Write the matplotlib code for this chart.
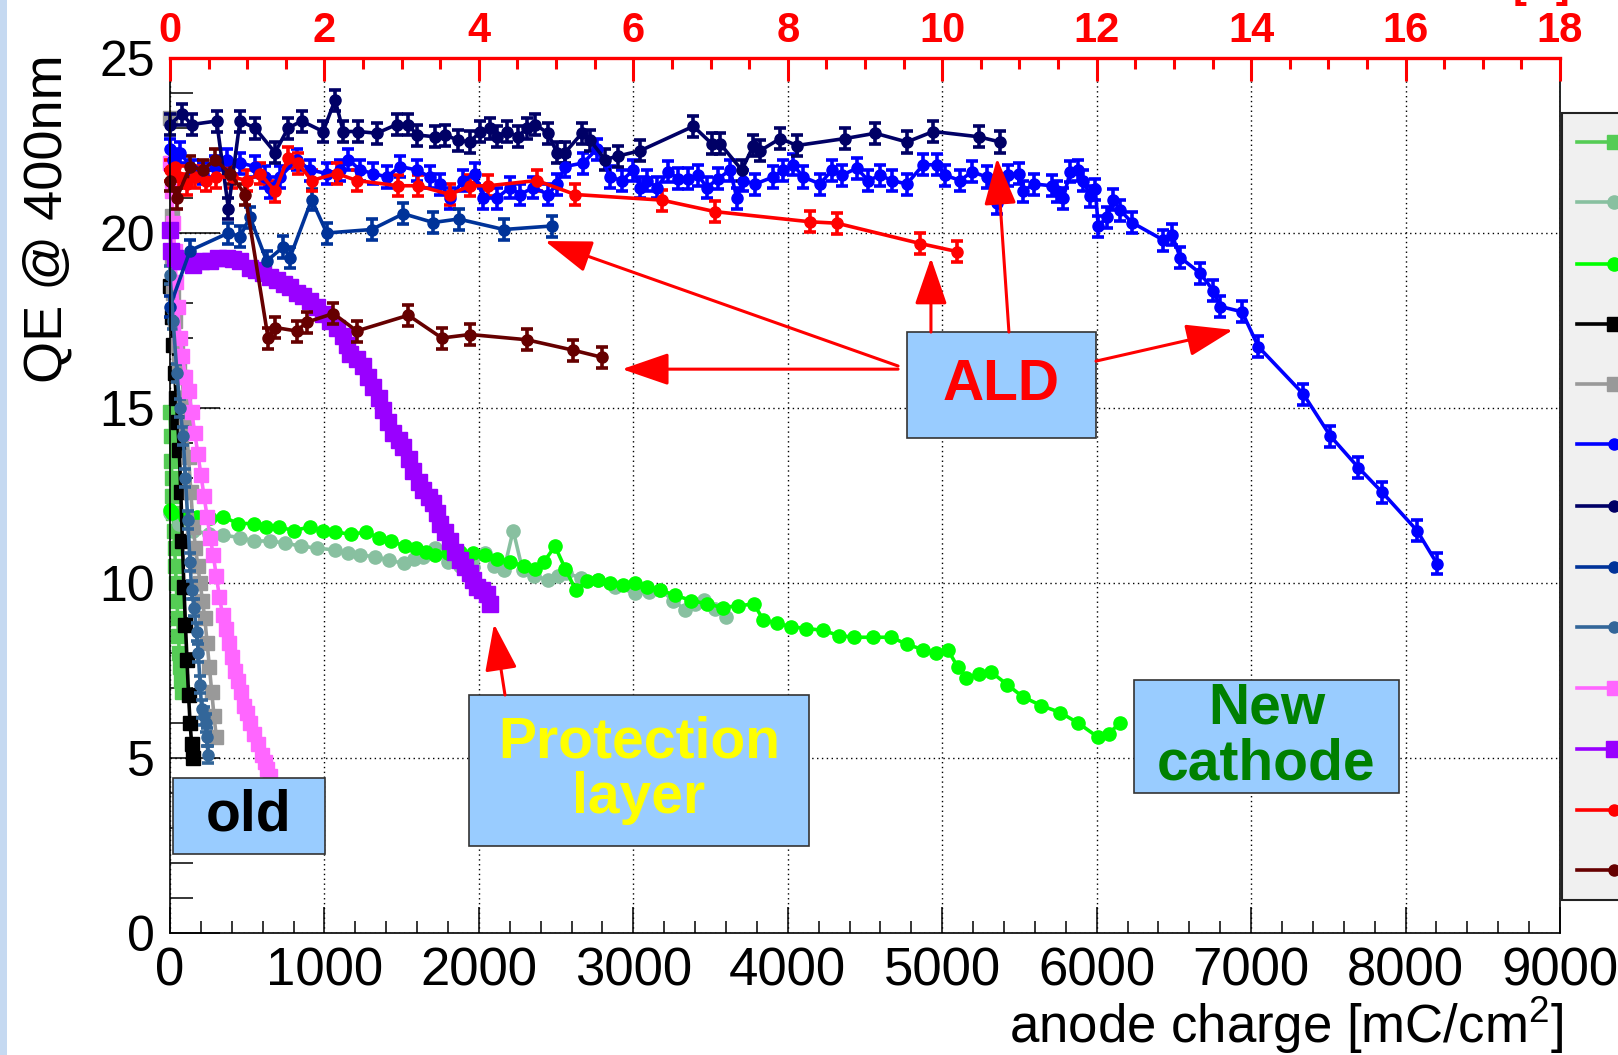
import numpy as np
import matplotlib
matplotlib.use("Agg")
import matplotlib.pyplot as plt
from matplotlib.patches import Rectangle
from matplotlib.lines import Line2D
from matplotlib.ticker import MultipleLocator

plt.rcParams['font.family'] = 'Liberation Sans'
plt.rcParams['mathtext.fontset'] = 'custom'
plt.rcParams['mathtext.rm'] = 'Liberation Sans'
plt.rcParams['mathtext.it'] = 'Liberation Sans'

# (anode charge [mC/cm2], QE [%]), one list per tube
old_lightgreen = [(0, 14.9), (4, 14.2), (8, 13.5), (12, 13.0), (16, 12.5), (20, 12.0), (25, 11.5),
                  (30, 11.0), (35, 10.5), (40, 10.0), (45, 9.5), (50, 9.0), (55, 8.5), (60, 8.0),
                  (65, 7.6), (70, 7.2), (75, 6.9)]
new_graygreen = [(0, 12.0), (60, 11.7), (150, 11.5), (250, 11.4), (340, 11.37), (450, 11.3), (545, 11.2),
                 (650, 11.2), (745, 11.14), (850, 11.05), (950, 11.0), (1069, 10.94), (1150, 10.85),
                 (1231, 10.8), (1330, 10.75), (1420, 10.65), (1514, 10.56), (1580, 10.7), (1635, 10.75),
                 (1716, 11.0), (1800, 10.6), (1880, 10.5), (1959, 10.47), (2040, 10.85), (2100, 10.5),
                 (2162, 10.37), (2222, 11.5), (2283, 10.37), (2360, 10.2), (2445, 10.09), (2510, 10.2),
                 (2566, 10.28), (2660, 10.15), (2769, 10.09), (2880, 9.9), (3012, 9.71), (3100, 9.75),
                 (3174, 9.8), (3260, 9.5), (3335, 9.23), (3400, 9.4), (3457, 9.51), (3530, 9.25),
                 (3599, 9.04)]
new_green = [(0, 12.1), (16, 12.0), (100, 11.9), (178, 11.9), (260, 11.85), (340, 11.9), (440, 11.7),
             (542, 11.7), (620, 11.6), (704, 11.6), (800, 11.5), (907, 11.6), (990, 11.5), (1069, 11.45),
             (1170, 11.4), (1271, 11.45), (1350, 11.3), (1433, 11.2), (1520, 11.05), (1595, 11.0),
             (1660, 10.9), (1716, 10.8), (1800, 10.85), (1878, 10.9), (1960, 10.85), (2040, 10.8),
             (2120, 10.7), (2202, 10.6), (2290, 10.5), (2364, 10.4), (2420, 10.6), (2493, 11.05),
             (2560, 10.4), (2627, 9.8), (2700, 10.05), (2769, 10.1), (2850, 10.0), (2930, 9.95),
             (3012, 10.0), (3090, 9.9), (3174, 9.8), (3270, 9.65), (3376, 9.5), (3480, 9.4), (3578, 9.3),
             (3680, 9.35), (3781, 9.4), (3841, 8.95), (3930, 8.85), (4022, 8.75), (4120, 8.7),
             (4226, 8.65), (4330, 8.5), (4428, 8.45), (4550, 8.45), (4671, 8.45), (4770, 8.25),
             (4874, 8.1), (4960, 8.0), (5036, 8.1), (5100, 7.6), (5157, 7.3), (5240, 7.4), (5319, 7.45),
             (5420, 7.1), (5521, 6.75), (5640, 6.5), (5764, 6.3), (5880, 6.0), (6007, 5.6), (6080, 5.7),
             (6149, 6.0)]
old_black = [(0, 18.5), (10, 17.6), (20, 16.8), (30, 16.0), (40, 15.3), (50, 14.6), (60, 13.8), (70, 12.6),
             (80, 11.2), (90, 9.9), (100, 8.8), (110, 7.8), (120, 6.8), (130, 6.0), (140, 5.4), (150, 5.0)]
old_gray = [(0, 23.3), (5, 22.0), (10, 20.5), (15, 19.3), (20, 18.3), (30, 17.5), (45, 16.8), (60, 16.3),
            (75, 15.9), (90, 15.3), (105, 14.5), (120, 13.6), (135, 12.6), (150, 11.6), (165, 11.0),
            (180, 10.5), (195, 10.0), (210, 9.5), (225, 9.0), (240, 8.3), (255, 7.6), (270, 6.9),
            (285, 6.2), (300, 5.6)]
ald_blue = [(0, 22.4), (22, 22.1), (65, 22.3), (150, 21.8), (215, 21.7), (290, 21.9), (368, 22.1),
            (453, 22.0), (550, 21.9), (615, 21.6), (648, 21.3), (712, 21.6), (821, 22.1), (907, 21.8),
            (1015, 21.7), (1101, 21.8), (1155, 22.1), (1230, 21.8), (1317, 21.7), (1403, 21.6),
            (1489, 21.9), (1597, 21.8), (1684, 21.6), (1749, 21.4), (1813, 21.0), (1900, 21.5),
            (1975, 21.7), (2029, 21.0), (2116, 21.0), (2202, 21.3), (2267, 21.1), (2353, 21.3),
            (2450, 21.1), (2504, 21.4), (2558, 21.9), (2675, 22.0), (2764, 22.4), (2850, 21.6),
            (2926, 21.5), (3001, 21.8), (3044, 21.3), (3087, 21.5), (3152, 21.3), (3226, 21.75),
            (3290, 21.55), (3355, 21.55), (3420, 21.65), (3476, 21.3), (3549, 21.55), (3627, 21.8),
            (3670, 21.0), (3711, 21.5), (3789, 21.4), (3906, 21.6), (3970, 21.8), (4035, 21.95),
            (4100, 21.6), (4210, 21.4), (4285, 21.8), (4350, 21.65), (4447, 21.85), (4521, 21.5),
            (4599, 21.65), (4674, 21.5), (4771, 21.4), (4877, 21.95), (4965, 21.95), (5019, 21.65),
            (5117, 21.5), (5192, 21.75), (5289, 21.6), (5354, 20.85), (5428, 21.65), (5495, 21.7),
            (5526, 21.2), (5592, 21.4), (5710, 21.35), (5742, 21.2), (5784, 21.0), (5829, 21.75),
            (5881, 21.8), (5914, 21.5), (5958, 21.05), (5991, 21.25), (6010, 20.2), (6067, 20.45),
            (6106, 20.95), (6153, 20.65), (6228, 20.3), (6431, 19.8), (6488, 19.95), (6541, 19.3),
            (6671, 18.85), (6755, 18.35), (6800, 17.9), (6941, 17.75), (7047, 16.75), (7338, 15.4),
            (7513, 14.2), (7694, 13.3), (7847, 12.6), (8074, 11.5), (8204, 10.55)]
ald_navy = [(0, 23.1), (76, 23.4), (140, 23.1), (302, 23.2), (378, 20.7), (453, 23.2), (550, 23.0),
            (680, 22.3), (765, 23.0), (853, 23.2), (991, 22.9), (1069, 23.8), (1122, 22.9), (1219, 22.9),
            (1339, 22.85), (1468, 23.1), (1543, 23.1), (1598, 22.8), (1716, 22.75), (1781, 22.8),
            (1867, 22.65), (1943, 22.6), (2008, 22.9), (2073, 23.0), (2116, 22.75), (2181, 22.9),
            (2254, 22.75), (2310, 23.0), (2364, 23.1), (2448, 22.85), (2504, 22.3), (2558, 22.3),
            (2667, 22.85), (2720, 22.65), (2817, 22.1), (2902, 22.2), (3044, 22.35), (3389, 23.05),
            (3508, 22.55), (3562, 22.55), (3702, 21.8), (3778, 22.5), (3821, 22.35), (3951, 22.7),
            (4059, 22.5), (4372, 22.7), (4567, 22.85), (4771, 22.6), (4942, 22.9), (5235, 22.75),
            (5375, 22.6)]
ald_darkblue = [(0, 17.9), (130, 19.5), (378, 20.0), (453, 19.9), (518, 20.45), (626, 19.2), (733, 19.6),
                (777, 19.3), (917, 20.95), (1015, 20.0), (1306, 20.1), (1511, 20.55), (1705, 20.3),
                (1868, 20.4), (2161, 20.1), (2472, 20.2)]
old_steelblue = [(0, 18.8), (20, 17.5), (45, 16.0), (65, 15.0), (85, 14.2), (100, 13.0), (115, 11.8),
                 (130, 10.6), (140, 9.8), (155, 9.3), (173, 8.6), (183, 8.0), (195, 7.1), (205, 6.4),
                 (220, 6.2), (232, 6.0), (238, 5.6), (246, 5.1)]
old_pink = [(0, 22.0), (10, 21.2), (20, 20.3), (30, 19.5), (40, 18.6), (50, 17.9), (65, 17.0), (80, 16.5),
            (100, 15.9), (120, 15.5), (140, 14.9), (160, 14.3), (180, 13.7), (200, 13.1), (220, 12.5),
            (240, 11.9), (260, 11.3), (280, 10.8), (300, 10.2), (320, 9.6), (340, 9.1), (360, 8.7),
            (380, 8.3), (400, 7.9), (420, 7.5), (440, 7.2), (460, 6.9), (480, 6.5), (500, 6.3), (520, 6.0),
            (545, 5.7), (570, 5.4), (595, 5.1), (615, 4.9), (630, 4.7), (645, 4.5)]
prot_purple = [(0, 20.1), (5, 19.5), (30, 19.3), (65, 19.2), (100, 19.2), (150, 19.1), (200, 19.2),
               (259, 19.2), (310, 19.3), (367, 19.3), (410, 19.25), (453, 19.2), (518, 19.0), (560, 18.95),
               (604, 18.85), (650, 18.75), (691, 18.65), (735, 18.55), (777, 18.45), (820, 18.3),
               (864, 18.2), (907, 18.05), (950, 17.9), (993, 17.7), (1036, 17.5), (1080, 17.3),
               (1122, 17.05), (1145, 16.8), (1166, 16.55), (1210, 16.4), (1252, 16.2), (1285, 15.9),
               (1317, 15.6), (1350, 15.3), (1381, 14.95), (1414, 14.6), (1446, 14.3), (1480, 14.1),
               (1511, 13.9), (1545, 13.55), (1576, 13.2), (1610, 12.9), (1641, 12.65), (1675, 12.45),
               (1705, 12.3), (1730, 12.0), (1749, 11.7), (1780, 11.45), (1813, 11.2), (1845, 10.9),
               (1878, 10.65), (1910, 10.45), (1943, 10.3), (1965, 10.1), (1986, 9.9), (2020, 9.8),
               (2051, 9.7), (2073, 9.4)]
ald_red = [(0, 21.8), (30, 21.9), (60, 21.6), (108, 21.4), (160, 21.6), (230, 21.5), (300, 21.6),
           (400, 21.6), (500, 21.5), (583, 21.7), (680, 21.2), (765, 22.15), (829, 22.0), (917, 21.5),
           (1079, 21.7), (1209, 21.5), (1477, 21.35), (1607, 21.35), (1813, 21.1), (1943, 21.35),
           (2062, 21.35), (2375, 21.5), (2623, 21.1), (3184, 20.94), (3530, 20.61), (4145, 20.32),
           (4318, 20.28), (4857, 19.7), (5095, 19.47)]
ald_maroon = [(0, 21.5), (43, 21.0), (130, 21.9), (214, 21.8), (291, 22.1), (389, 21.7), (486, 21.1),
              (635, 17.0), (680, 17.3), (820, 17.2), (885, 17.45), (1058, 17.7), (1209, 17.2),
              (1543, 17.65), (1760, 17.0), (1943, 17.1), (2310, 16.95), (2612, 16.65), (2796, 16.45)]

# drawing order = legend order: data, colour, marker, marker size, error bar
series = [
    (old_lightgreen, '#55cc55', 's', 10, 0),
    (new_graygreen, '#88c0a0', 'o', 9.5, 0),
    (new_green, '#00ff00', 'o', 9.5, 0),
    (old_black, '#000000', 's', 10, 0),
    (old_gray, '#999999', 's', 10, 0),
    (ald_blue, '#0000ff', 'o', 8, 0.3),
    (ald_navy, '#000066', 'o', 8, 0.3),
    (ald_darkblue, '#003399', 'o', 8, 0.3),
    (old_steelblue, '#336699', 'o', 8, 0.25),
    (old_pink, '#ff66ff', 's', 10, 0),
    (prot_purple, '#9900ff', 's', 11, 0),
    (ald_red, '#ff0000', 'o', 8, 0.3),
    (ald_maroon, '#660000', 'o', 8, 0.3),
]

W, H = 1618, 1055
fig = plt.figure(figsize=(W / 100, H / 100), dpi=100)
ax = fig.add_axes([170 / W, 1 - 933 / H, 1390 / W, 875 / H])

for pts, col, mk, ms, err in series:
    arr = np.array(pts, dtype=float)
    if err:
        ax.errorbar(arr[:, 0], arr[:, 1], yerr=err, color=col, marker=mk, ms=ms, mec=col,
                    lw=2.6, elinewidth=2.6, capsize=4.5, capthick=2.6, clip_on=False)
    else:
        ax.plot(arr[:, 0], arr[:, 1], color=col, marker=mk, ms=ms, mec=col, lw=2.6, clip_on=False)

ax.set_xlim(0, 9000)
ax.set_ylim(0, 25)
ax.xaxis.set_major_locator(MultipleLocator(1000))
ax.xaxis.set_minor_locator(MultipleLocator(200))
ax.yaxis.set_major_locator(MultipleLocator(5))
ax.yaxis.set_minor_locator(MultipleLocator(1))
ax.grid(True, which='major', color='black', linestyle=(0, (1, 2.5)), linewidth=1)
ax.set_axisbelow(True)
ax.tick_params(axis='x', which='major', direction='in', length=19, width=1.1, labelsize=38, pad=10,
               top=False)
ax.tick_params(axis='x', which='minor', direction='in', length=8.5, width=1.1, top=False)
ax.tick_params(axis='y', which='major', direction='in', length=36, width=1.1, labelsize=36, pad=11,
               right=False)
ax.tick_params(axis='y', which='minor', direction='in', length=16.5, width=1.1, right=False)
ax.spines['top'].set_visible(False)
for s in ['left', 'bottom', 'right']:
    ax.spines[s].set_linewidth(1.2)

# red top axis
ax2 = ax.twiny()
ax2.set_xlim(0, 18)
ax2.xaxis.set_major_locator(MultipleLocator(2))
ax2.xaxis.set_minor_locator(MultipleLocator(0.5))
ax2.tick_params(axis='x', which='major', direction='in', length=16.5, width=2.2, color='red',
                labelcolor='red', labelsize=30, pad=5)
ax2.tick_params(axis='x', which='minor', direction='in', length=8, width=2.2, color='red')
for lab in ax2.get_xticklabels():
    lab.set_fontweight('bold')
for s in ['left', 'bottom', 'right']:
    ax2.spines[s].set_visible(False)
ax2.spines['top'].set_color('red')
ax2.spines['top'].set_linewidth(2.4)

# annotation boxes
boxes = [
    ((4772, 14.14), 1224, 3.03, 'ALD', '#ff0000'),
    ((1936, 2.49), 2202, 4.31, 'Protection\nlayer', '#ffff00'),
    ((6242, 4.0), 1716, 3.23, 'New\ncathode', '#008000'),
    ((19, 2.26), 985, 2.17, 'old', '#000000'),
]
for (x0, y0), w, h, txt, col in boxes:
    ax.add_patch(Rectangle((x0, y0), w, h, facecolor='#99ccff', edgecolor='#333333', lw=1.2,
                           zorder=10, clip_on=False))
    ax.text(x0 + w / 2, y0 + h / 2, txt, color=col, fontsize=41, fontweight='bold', ha='center',
            va='center', linespacing=1.05, zorder=11)

# red arrows: (start, tip)
arrows = [
    ((4714, 16.2), (2428, 19.77)),
    ((4714, 16.11), (2927, 16.11)),
    ((4927, 17.17), (4927, 19.29)),
    ((5432, 17.17), (5355, 22.14)),
    ((5996, 16.34), (6883, 17.23)),
    ((2169, 6.8), (2098, 8.83)),
]
for start, tip in arrows:
    ax.annotate('', xy=tip, xytext=start, zorder=12,
                arrowprops=dict(arrowstyle='-|>,head_length=1.45,head_width=0.5', mutation_scale=20,
                                color='red', lw=2.2, shrinkA=0, shrinkB=0))

# axis titles
fig.text(48 / W, 1 - 54 / H, 'QE @ 400nm', rotation=90, ha='center', va='top', fontsize=39)
fig.text(1563 / W, 1 - 1043 / H, 'anode charge [mC/cm$^{2}$]', ha='right', va='baseline', fontsize=38)
fig.text(1513 / W, 1 + 3 / H, '[C]', color='red', fontsize=30, fontweight='bold', ha='left',
         va='baseline')

# slide edge strip
fig.add_artist(Rectangle((0, 0), 7 / W, 1, transform=fig.transFigure, facecolor='#c5d9f1',
                         edgecolor='none'))

# legend box cut by the right edge
fig.add_artist(Rectangle((1562 / W, 1 - 900 / H), 100 / W, 787 / H, transform=fig.transFigure,
                         facecolor='#f0f0f0', edgecolor='#222222', lw=1.5))
leg_y = [142, 202, 264, 323.5, 384, 444, 505.6, 566.5, 627, 688, 748.6, 810, 870]
for yy, (pts, col, mk, ms, err) in zip(leg_y, series):
    fy = 1 - yy / H
    fig.add_artist(Line2D([1577 / W, 1614 / W], [fy, fy], transform=fig.transFigure, color=col, lw=2.6))
    fig.add_artist(Line2D([1614 / W], [fy], transform=fig.transFigure, color=col, marker=mk, ms=ms,
                          mec=col))

fig.savefig('out.png', dpi=100)
